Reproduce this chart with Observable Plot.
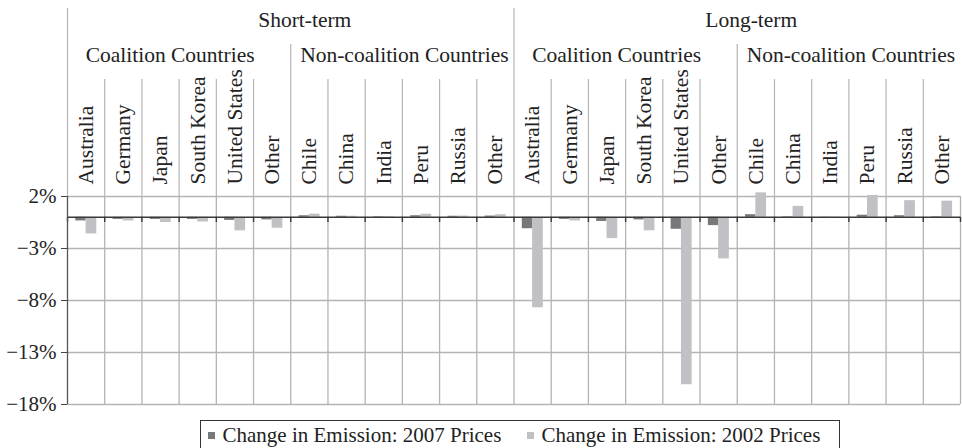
<!DOCTYPE html>
<html>
<head>
<meta charset="utf-8">
<script src="https://cdn.jsdelivr.net/npm/d3@7"></script>
<script src="https://cdn.jsdelivr.net/npm/@observablehq/plot@0.6"></script>
<style>
  html, body { margin: 0; padding: 0; background: #fff; }
  #wrap { position: relative; width: 962px; height: 448px; overflow: hidden; font-family: "Liberation Serif", "Times New Roman", Times, Tinos, "Noto Serif", "DejaVu Serif", serif; color: #222; }
  #legend { position: absolute; left: 200px; top: 420px; width: 640px; height: 30px; box-sizing: border-box;
            border: 1.5px solid #333; font-size: 21px; white-space: nowrap; }
  .item { position: absolute; top: 0; height: 28px; display: flex; align-items: center; }
  .sw { width: 7px; height: 7px; display: inline-block; margin-right: 8px; }
  svg text { font-family: "Liberation Serif", "Times New Roman", Times, Tinos, "Noto Serif", "DejaVu Serif", serif; }
</style>
</head>
<body>
<div id="wrap"><div id="chart"></div><div id="legend"></div></div>
<script>
// ---- data ----
const periods = ["Short-term", "Long-term"];
const groups = ["Coalition Countries", "Non-coalition Countries"];
const coalition = ["Australia", "Germany", "Japan", "South Korea", "United States", "Other"];
const nonCoalition = ["Chile", "China", "India", "Peru", "Russia", "Other"];
const series = ["Change in Emission: 2007 Prices", "Change in Emission: 2002 Prices"];
// values in %, order: Short-term (coalition, non-coalition), Long-term (coalition, non-coalition)
const prices2007 = [-0.35, -0.2, -0.2, -0.2, -0.3, -0.25,  0.15, 0.1, 0.05, 0.15, 0.1, 0.12,
                    -1.1, -0.2, -0.4, -0.25, -1.15, -0.8,  0.25, 0.05, 0.02, 0.2, 0.15, 0.05];
const prices2002 = [-1.6, -0.35, -0.5, -0.45, -1.3, -1.05,  0.3, 0.1, 0.05, 0.3, 0.12, 0.25,
                    -8.7, -0.35, -2.05, -1.3, -16.1, -4.0,  2.35, 1.05, 0.02, 2.1, 1.6, 1.55];
const yTicks = [2, -3, -8, -13, -18];
const colors = ["#78787a", "#c0c1c4"];

// ---- table ----
const rows = [];
periods.forEach(p => groups.forEach((g, gi) => (gi === 0 ? coalition : nonCoalition).forEach(c => {
  const i = rows.length;
  rows.push({key: p + "|" + g + "|" + c, period: p, group: g, country: c, v07: prices2007[i], v02: prices2002[i]});
})));
const keys = rows.map(d => d.key);

// ---- layout ----
const W = 962, H = 420, mL = 67, mR = 2, mT = 196, mB = 16;
const bw = (W - mL - mR) / keys.length;
const yS = Plot.scale({y: {domain: [-18, 2], range: [H - mB, mT]}});
const Y = px => yS.invert(px);
const half = bw / 2;
const barW = 10.3;
const FF = "'Liberation Serif', 'Times New Roman', Times, Tinos, 'Noto Serif', 'DejaVu Serif', serif";

function vRules(idx, y1, y2, opts) {
  const a = idx.filter(i => i < keys.length), b = idx.filter(i => i === keys.length);
  const m = [];
  if (a.length) m.push(Plot.ruleX(a, {x: i => keys[i], y1, y2, dx: -half, ...opts}));
  if (b.length) m.push(Plot.ruleX(b, {x: () => keys[keys.length - 1], y1, y2, dx: half, ...opts}));
  return m;
}
const all = d3.range(0, keys.length + 1);
const countryBounds = all.filter(i => i % 6 !== 0);
const groupBounds = all.filter(i => i % 12 === 6);
const periodBounds = [0, 12];

const gridColor = "#b4b4b4";
const fmt = d => (d < 0 ? "\u2212" : "") + Math.abs(d) + "%";
const T = {fontSize: 21.5, fill: "#222", fontFamily: FF};

const chart = Plot.plot({
  width: W, height: H,
  marginLeft: mL, marginRight: mR, marginTop: mT, marginBottom: mB,
  style: {fontFamily: FF, fontSize: "21px", color: "#222", background: "#fff", overflow: "visible"},
  x: {type: "band", domain: keys, padding: 0, round: false, axis: null},
  y: {domain: [-18, 2], axis: null},
  marks: [
    Plot.ruleY(yTicks, {stroke: gridColor, strokeWidth: 1.3}),
    ...vRules(all.filter(i => i > 0), -18, 2, {stroke: gridColor, strokeWidth: 1.3}),
    ...vRules(countryBounds.filter(i => i < keys.length), Y(79), 2, {stroke: gridColor, strokeWidth: 1.2}),
    ...vRules(groupBounds, Y(44), 2, {stroke: gridColor, strokeWidth: 1.2}),
    ...vRules(periodBounds, Y(8), 2, {stroke: gridColor, strokeWidth: 1.2}),
    Plot.barY(rows, {x: "key", y: "v07", fill: colors[0], insetLeft: half - barW, insetRight: half}),
    Plot.barY(rows, {x: "key", y: "v02", fill: colors[1], insetLeft: half, insetRight: half - barW - 0.4}),
    Plot.ruleY([0], {stroke: "#3a3a3a", strokeWidth: 1.6}),
    ...vRules(all, 0, Y(222), {stroke: "#3a3a3a", strokeWidth: 1.4}),
    ...vRules([0], -18, 2, {stroke: "#555", strokeWidth: 1.3}),
    Plot.axisY({ticks: yTicks, tickFormat: fmt, tickSize: 6, tickPadding: 5, fontSize: 21, fontFamily: FF, stroke: "#444"}),
    Plot.text(periods, {x: (d, i) => keys[i * 12 + 6], y: Y(20), text: d => d, dx: -half + 14, ...T}),
    Plot.text(periods, {x: (d, i) => keys[i * 12 + 3], y: Y(55), text: () => groups[0], dx: -half - 9, ...T}),
    Plot.text(periods, {x: (d, i) => keys[i * 12 + 9], y: Y(55), text: () => groups[1], dx: -half + 2, ...T}),
    Plot.text(rows, {x: "key", y: Y(184), text: "country", rotate: -90, textAnchor: "start", lineAnchor: "middle", ...T, fontSize: 21.5})
  ]
});
document.getElementById("chart").appendChild(chart);

const lg = document.getElementById("legend");
const itemLeft = [6.5, 325.5];
series.forEach((s, i) => {
  const it = document.createElement("span");
  it.className = "item";
  it.style.left = itemLeft[i] + "px";
  it.innerHTML = `<span class="sw" style="background:${colors[i]}"></span><span>${s}</span>`;
  lg.appendChild(it);
});
</script>
</body>
</html>
